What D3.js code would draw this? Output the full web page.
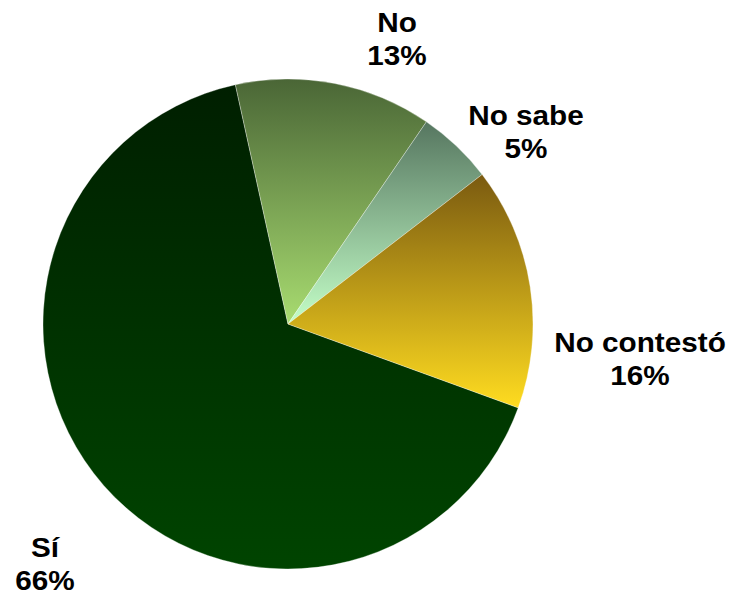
<!DOCTYPE html>
<html><head><meta charset="utf-8">
<script src="https://cdn.jsdelivr.net/npm/d3@7"></script>
<style>body{margin:0;background:#fff}svg{display:block}</style>
</head><body>
<svg id="c" width="733" height="595"></svg>
<script>
const categories = ["Sí", "No", "No sabe", "No contestó"];
const values = [66, 13, 5, 16];
const pctLabels = ["66%", "13%", "5%", "16%"];
const gradTop = ["#001f00", "#4a6636", "#567660", "#7a5a10"];
const gradBottom = ["#004400", "#a8dc70", "#c4ffc8", "#ffdc20"];
const labelPos = [[45, 557], [397, 32], [526, 125], [640, 352]];

const svg = d3.select("#c");
const cx = 288, cy = 324, r = 245;
const defs = svg.append("defs");
categories.forEach((c, i) => {
  const g = defs.append("linearGradient").attr("id", "g" + i)
    .attr("x1", 0).attr("y1", 0).attr("x2", 0).attr("y2", 1);
  g.append("stop").attr("offset", "0%").attr("stop-color", gradTop[i]);
  g.append("stop").attr("offset", "100%").attr("stop-color", gradBottom[i]);
});
const startA = 110 * Math.PI / 180;
const pie = d3.pie().sort(null).value(d => d)
  .startAngle(startA).endAngle(startA + 2 * Math.PI);
const arc = d3.arc().innerRadius(0).outerRadius(r);
const arcs = pie(values);
svg.append("g").attr("transform", `translate(${cx},${cy})`)
  .selectAll("path").data(arcs).join("path")
  .attr("d", arc)
  .attr("fill", (d, i) => `url(#g${i})`)
  .attr("stroke", "rgba(255,255,255,0.45)").attr("stroke-width", 0.7);

const lg = svg.append("g").attr("font-family", "Liberation Sans, Arial, sans-serif")
  .attr("font-weight", "bold").attr("font-size", 27).attr("fill", "#000")
  .attr("text-anchor", "middle");
categories.forEach((c, i) => {
  const [x, y] = labelPos[i];
  const t = lg.append("text").attr("transform", `translate(${x},${y}) scale(1.1,1)`);
  t.append("tspan").attr("x", 0).attr("y", 0).text(c);
  t.append("tspan").attr("x", 0).attr("y", 33).text(pctLabels[i]);
});
</script>
</body></html>
